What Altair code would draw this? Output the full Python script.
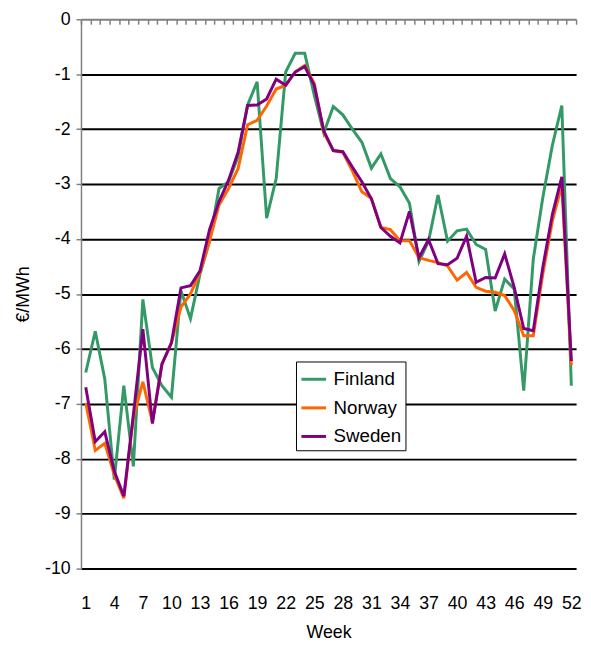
import altair as alt
import pandas as pd

weeks = list(range(1, 53))
countries = ["Finland", "Norway", "Sweden"]
colors = ["#339966", "#FF6600", "#800080"]

finland = [-6.43, -5.68, -6.55, -8.38, -6.67, -8.14, -5.10, -6.34, -6.67, -6.88,
           -4.94, -5.45, -4.64, -4.04, -3.08, -2.96, -2.50, -1.56, -1.14, -3.62,
           -2.90, -0.96, -0.62, -0.62, -1.38, -2.07, -1.59, -1.74, -2.00, -2.24,
           -2.71, -2.45, -2.90, -3.05, -3.35, -4.41, -4.04, -3.20, -4.04, -3.85,
           -3.82, -4.10, -4.19, -5.31, -4.73, -4.91, -6.76, -4.37, -3.25, -2.30,
           -1.57, -6.67]
norway = [-6.98, -7.85, -7.72, -8.29, -8.72, -7.25, -6.60, -7.33, -6.28, -5.89,
          -5.24, -5.00, -4.61, -4.04, -3.38, -3.08, -2.72, -1.92, -1.84, -1.58,
          -1.27, -1.20, -0.96, -0.84, -1.17, -2.06, -2.39, -2.42, -2.76, -3.14,
          -3.26, -3.79, -3.83, -4.03, -4.03, -4.34, -4.39, -4.43, -4.49, -4.75,
          -4.61, -4.88, -4.95, -4.97, -5.03, -5.30, -5.76, -5.76, -4.64, -3.68,
          -3.02, -6.30]
sweden = [-6.70, -7.69, -7.51, -8.23, -8.68, -7.20, -5.64, -7.36, -6.28, -5.89,
          -4.89, -4.85, -4.58, -3.83, -3.32, -2.93, -2.42, -1.57, -1.56, -1.45,
          -1.09, -1.20, -0.96, -0.86, -1.20, -2.03, -2.39, -2.41, -2.69, -2.96,
          -3.27, -3.79, -3.95, -4.07, -3.50, -4.34, -4.01, -4.45, -4.47, -4.35,
          -3.95, -4.79, -4.70, -4.71, -4.27, -4.88, -5.63, -5.67, -4.52, -3.56,
          -2.87, -6.22]

x_labels = list(range(1, 53, 3))
y_ticks = list(range(-10, 1))

rows = []
for name, vals in zip(countries, [finland, norway, sweden]):
    for w, v in zip(weeks, vals):
        rows.append({"Week": w, "Country": name, "Value": v})
df = pd.DataFrame(rows)

FONT = "Liberation Sans"
x_scale = alt.Scale(domain=[0.5, 52.5], nice=False, zero=False)
y_scale = alt.Scale(domain=[-10, 0], nice=False, zero=False)

y_axis = alt.Axis(values=y_ticks, title="€/MWh", grid=True,
                  gridColor=alt.condition("datum.value == 0", alt.value("#808080"), alt.value("black")),
                  gridWidth=2, domainColor="#808080", domainWidth=1.5,
                  tickColor="#808080", tickSize=5, tickWidth=1.5,
                  labelExpr="'' + datum.value",
                  labelPadding=6, labelFontSize=18, labelFont=FONT,
                  labelColor="black", titleFontSize=18, titleFont=FONT,
                  titleFontWeight="normal", titleColor="black",
                  titlePadding=12)

lines = alt.Chart(df).mark_line(strokeWidth=3).encode(
    x=alt.X("Week:Q", scale=x_scale,
            axis=alt.Axis(orient="bottom", values=x_labels, title="Week",
                          grid=False, domain=False, ticks=False, tickSize=0,
                          labelPadding=26, labelFontSize=18, labelFont=FONT,
                          labelColor="black", titleFontSize=18, titleFont=FONT,
                          titleFontWeight="normal", titleColor="black",
                          titlePadding=12, labelFlush=False)),
    y=alt.Y("Value:Q", scale=y_scale, axis=y_axis),
    color=alt.Color("Country:N", scale=alt.Scale(domain=countries, range=colors),
                    legend=alt.Legend(title=None, orient="none", legendX=218, legendY=347,
                                      fillColor="white", strokeColor="black",
                                      padding=4, symbolType="stroke", symbolSize=625,
                                      symbolStrokeWidth=3, labelFontSize=19,
                                      labelFont=FONT, labelColor="black",
                                      labelOffset=6, rowPadding=5)),
    order=alt.Order("Week:Q"),
)

boundaries = [w - 0.5 for w in weeks] + [52.5]
top_ticks = alt.Chart(df).mark_line(opacity=0).encode(
    x=alt.X("Week:Q", scale=x_scale,
            axis=alt.Axis(orient="top", values=boundaries, labels=False, title=None,
                          grid=False, domain=False, ticks=True, tickSize=5,
                          tickWidth=1.5, tickColor="#808080", offset=-5)),
    y=alt.Y("Value:Q", scale=y_scale, axis=y_axis),
    detail="Country:N",
)

chart = alt.layer(lines, top_ticks).resolve_axis(x="independent").properties(
    width=502, height=557,
    padding={"left": 74, "top": 7, "right": 7, "bottom": 71},
    autosize=alt.AutoSizeParams(type="none"),
).configure_view(stroke=None)

chart.save("out.html", embed_options={"renderer": "svg", "actions": False})
